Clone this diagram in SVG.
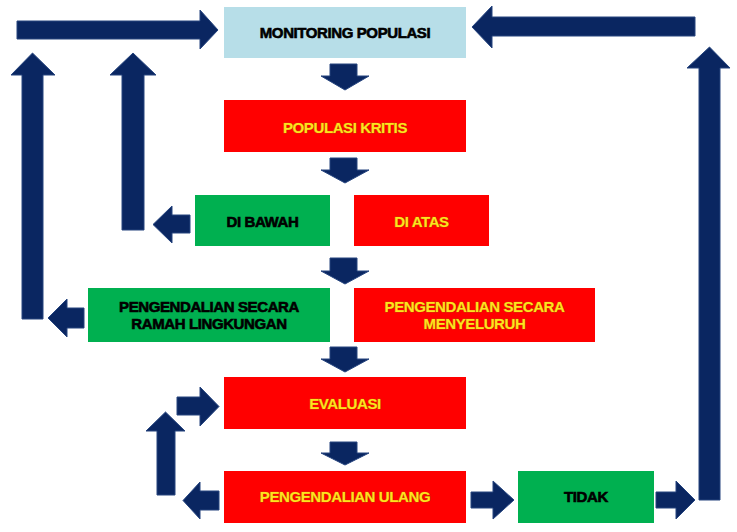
<svg xmlns="http://www.w3.org/2000/svg" width="737" height="532" viewBox="0 0 737 532">
<style>
.box{stroke:none}
.blue{fill:#B7DEE8}
.red{fill:#FF0000}
.green{fill:#00B050}
.t{font-family:"Liberation Sans",Arial,sans-serif;font-weight:bold;font-size:15px;text-anchor:middle;letter-spacing:-0.4px}
.dark{fill:#000000;stroke:#000000;stroke-width:0.6px}
.yel{fill:#FFE21F;stroke:#A86E00;stroke-width:0.7px;paint-order:stroke}
.arr{fill:#0A2661;stroke:#26457F;stroke-width:1}
</style>
<rect width="737" height="532" fill="#FFFFFF"/>
<g id="connectors">
  <path class="arr" d="M17,21 H200 V10 L218,30 L200,49 V39 H17 Z"/>
  <path class="arr" d="M695,17 H492 V6 L472,27 L492,48 V36 H695 Z"/>
  <path class="arr" d="M22,319 V75 H11 L32.5,53 L55,75 H43 V319 Z"/>
  <path class="arr" d="M122,230 V75 H110 L133,53 L156,75 H144 V230 Z"/>
  <path class="arr" d="M190,215 H172 V206 L153,224.5 L172,243 V233 H190 Z"/>
  <path class="arr" d="M84,308 H67 V299 L48,318 L67,337 V328 H84 Z"/>
  <path class="arr" d="M699,500 V68 H687 L709.5,47 L730,68 H720 V500 Z"/>
  <path class="arr" d="M656,492 H676 V481 L695,500 L676,519 V508 H656 Z"/>
  <path class="arr" d="M471,492 H493 V481 L514,500 L493,519 V508 H471 Z"/>
  <path class="arr" d="M219,491 H200 V482 L183,500.5 L200,519 V510 H219 Z"/>
  <path class="arr" d="M157,495 V431 H146 L165.5,412 L185,431 H175 V495 Z"/>
  <path class="arr" d="M177,397 H200 V387 L219,406.5 L200,426 V415 H177 Z"/>
  <path class="arr" d="M330,64 H357 V76 H369 L345,90 L321,76 H330 Z"/>
  <path class="arr" d="M330,158 H357 V170 H369 L345,183 L321,170 H330 Z"/>
  <path class="arr" d="M330,258 H357 V271 H369 L345,284 L321,271 H330 Z"/>
  <path class="arr" d="M330,347 H357 V359 H369 L345,372 L321,359 H330 Z"/>
  <path class="arr" d="M330,442 H357 V453 H369 L345,465 L321,453 H330 Z"/>
</g>
<g id="monitoring">
  <rect class="box blue" x="224" y="7" width="242" height="51"/>
  <text class="t dark" x="345" y="38">MONITORING POPULASI</text>
</g>
<g id="populasi-kritis">
  <rect class="box red" x="224" y="100" width="242" height="52"/>
  <text class="t yel" x="345" y="133">POPULASI KRITIS</text>
</g>
<g id="di-bawah">
  <rect class="box green" x="195" y="195" width="135" height="51"/>
  <text class="t dark" x="262.5" y="227">DI BAWAH</text>
</g>
<g id="di-atas">
  <rect class="box red" x="354" y="195" width="135" height="51"/>
  <text class="t yel" x="421.5" y="227">DI ATAS</text>
</g>
<g id="ramah">
  <rect class="box green" x="88" y="288" width="242" height="54"/>
  <text class="t dark" x="209" y="312">PENGENDALIAN  SECARA</text>
  <text class="t dark" x="209" y="329">RAMAH LINGKUNGAN</text>
</g>
<g id="menyeluruh">
  <rect class="box red" x="354" y="288" width="241" height="54"/>
  <text class="t yel" x="474.5" y="312">PENGENDALIAN  SECARA</text>
  <text class="t yel" x="474.5" y="329">MENYELURUH</text>
</g>
<g id="evaluasi">
  <rect class="box red" x="224" y="377" width="242" height="52"/>
  <text class="t yel" x="345" y="409">EVALUASI</text>
</g>
<g id="ulang">
  <rect class="box red" x="224" y="471" width="242" height="52"/>
  <text class="t yel" x="345" y="502">PENGENDALIAN ULANG</text>
</g>
<g id="tidak">
  <rect class="box green" x="518" y="471" width="136" height="52"/>
  <text class="t dark" x="586" y="502">TIDAK</text>
</g>
</svg>
